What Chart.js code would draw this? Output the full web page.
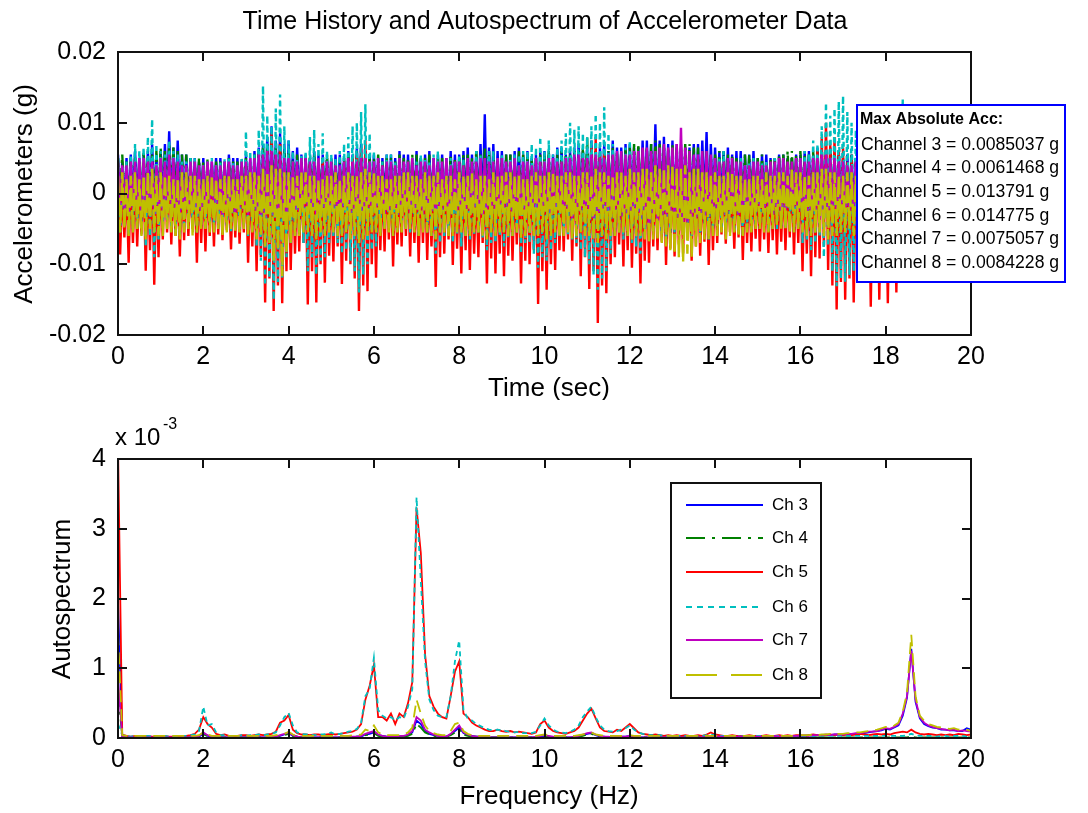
<!DOCTYPE html>
<html>
<head>
<meta charset="utf-8">
<script src="https://cdn.jsdelivr.net/npm/chart.js@4.4.0/dist/chart.umd.min.js"></script>
<style>
  body { margin: 0; background: #fff; }
  canvas { position: absolute; left: 0; }
</style>
</head>
<body>
<canvas id="timeChart" width="1088" height="400" style="top:0"></canvas>
<canvas id="specChart" width="1088" height="413" style="top:400px"></canvas>
<script>
// time history, units of 1e-4 g, one sample every 0.05 s (one row = 1 s)
const ch3Acc = [
  55,-10,45,-15, 50,-20,55,-10, 60,-5,50,-20, 55,-15,60,-10, 70,-10,55,-20,
  60,-15,70,-10, 88,-20,65,-15, 75,-10,55,-20, 55,-25,50,-15, 50,-15,45,-10,
  50,-20,45,-15, 45,-10,50,-20, 50,-15,45,-10, 55,-20,50,-15, 50,-10,45,-20,
  55,-25,50,-15, 60,-15,65,-20, 70,-30,80,-25, 95,-20,75,-30, 85,-35,70,-25,
  75,-20,60,-25, 65,-15,55,-20, 55,-30,50,-20, 60,-25,55,-15, 55,-20,50,-25,
  50,-15,55,-20, 55,-20,50,-15, 60,-25,55,-20, 65,-30,70,-25, 60,-20,55,-15,
  55,-15,50,-20, 50,-10,55,-15, 55,-20,50,-25, 60,-15,55,-20, 55,-25,50,-15,
  60,-20,50,-15, 55,-15,60,-20, 50,-25,55,-15, 55,-20,50,-25, 60,-15,55,-20,
  55,-25,60,-15, 65,-20,55,-25, 60,-15,70,-20, 112,-30,65,-20, 70,-20,60,-15,
  60,-15,55,-20, 55,-25,60,-15, 65,-20,55,-25, 60,-15,50,-20, 55,-30,60,-20,
  60,-20,55,-15, 55,-15,65,-20, 65,-25,55,-20, 60,-20,65,-15, 70,-15,60,-25,
  65,-25,75,-20, 60,-20,65,-15, 70,-15,60,-25, 75,-30,65,-20, 65,-20,70,-15,
  70,-25,65,-20, 65,-20,75,-15, 75,-15,70,-25, 98,-30,75,-20, 80,-25,70,-20,
  75,-20,70,-25, 70,-25,65,-20, 65,-15,70,-20, 70,-20,75,-15, 87,-25,70,-20,
  65,-20,60,-15, 60,-15,65,-20, 55,-25,60,-15, 60,-20,55,-25, 55,-15,60,-20,
  50,-20,55,-15, 55,-15,50,-20, 50,-25,55,-15, 55,-20,50,-15, 50,-15,55,-20,
  55,-20,60,-15, 60,-25,55,-20, 65,-15,60,-20, 60,-20,65,-25, 55,-25,60,-15,
  50,-20,55,-15, 55,-15,50,-20, 50,-20,45,-15, 45,-25,50,-20, 50,-15,45,-20,
  45,-20,50,-15, 50,-15,45,-20, 40
];
const ch4Acc = [
  50,-5,55,-10, 45,-15,50,-5, 50,-10,45,-15, 60,-5,50,-10, 55,-15,60,-5,
  65,-10,60,-15, 70,-5,65,-10, 60,-15,55,-5, 55,-10,50,-15, 45,-5,50,-10,
  45,-10,50,-5, 40,-15,45,-10, 45,-5,40,-15, 50,-10,45,-5, 45,-15,50,-10,
  50,-10,45,-15, 55,-20,60,-10, 65,-15,70,-20, 75,-10,65,-15, 70,-20,60,-10,
  60,-15,55,-10, 55,-10,50,-15, 50,-20,55,-10, 55,-15,50,-10, 50,-10,55,-15,
  50,-10,45,-15, 45,-15,50,-10, 55,-20,50,-15, 60,-15,55,-10, 55,-10,50,-15,
  50,-15,55,-10, 45,-10,50,-15, 50,-15,45,-10, 55,-10,50,-15, 50,-20,55,-10,
  55,-10,50,-15, 50,-15,55,-10, 45,-20,50,-10, 50,-15,45,-10, 55,-10,50,-15,
  50,-15,55,-10, 55,-10,50,-15, 60,-15,55,-10, 65,-20,60,-15, 55,-10,50,-15,
  50,-15,55,-10, 55,-10,50,-15, 60,-15,55,-10, 55,-10,50,-15, 50,-20,55,-10,
  55,-15,60,-10, 50,-10,55,-15, 60,-20,55,-10, 55,-15,60,-10, 60,-10,65,-15,
  79,-15,65,-10, 60,-20,55,-15, 55,-10,60,-15, 65,-15,60,-10, 60,-20,65,-15,
  65,-15,70,-10, 70,-10,65,-15, 65,-20,70,-10, 75,-15,70,-10, 70,-10,65,-15,
  70,-15,65,-10, 65,-10,70,-15, 70,-20,65,-10, 65,-15,60,-10, 60,-10,55,-15,
  55,-10,60,-15, 60,-15,55,-10, 55,-10,50,-15, 50,-15,55,-10, 55,-10,50,-15,
  50,-15,55,-10, 45,-10,50,-15, 50,-15,55,-10, 55,-10,60,-15, 60,-15,55,-10,
  60,-10,55,-15, 55,-15,60,-10, 60,-20,55,-15, 55,-10,60,-15, 50,-15,55,-10,
  50,-10,45,-15, 55,-15,50,-10, 50,-10,45,-15, 45,-15,50,-10, 45,-10,40,-15,
  45,-15,40,-10, 40,-10,45,-15, 40
];
const ch5Acc = [
  20,-86,10,-62, 15,-98,25,-70, 25,-75,15,-58, 30,-109,20,-80, 45,-129,25,-90,
  20,-65,30,-55, 35,-72,15,-60, 15,-89,20,-66, 25,-60,10,-50, 10,-98,20,-70,
  20,-82,15,-60, 15,-75,25,-58, 25,-66,10,-52, 10,-79,20,-62, 20,-71,15,-55,
  30,-98,20,-75, 25,-110,35,-90, 40,-154,60,-120, 85,-166,55,-130, 70,-155,40,-110,
  40,-108,25,-85, 20,-82,30,-70, 30,-157,40,-110, 35,-154,25,-100, 45,-126,30,-88,
  20,-96,30,-75, 25,-128,35,-95, 40,-100,50,-120, 55,-166,65,-130, 75,-138,45,-100,
  30,-119,20,-80, 15,-82,25,-65, 25,-103,15,-72, 20,-75,30,-60, 30,-89,20,-70,
  15,-98,25,-70, 25,-94,15,-75, 20,-132,30,-90, 35,-85,20,-65, 25,-101,15,-78,
  20,-113,25,-80, 30,-108,20,-85, 15,-90,25,-70, 25,-127,30,-92, 35,-113,20,-85,
  20,-117,30,-88, 25,-95,15,-72, 30,-127,25,-95, 40,-100,30,-80, 35,-156,40,-110,
  30,-136,25,-100, 20,-108,30,-80, 25,-82,20,-65, 35,-95,40,-75, 45,-117,35,-90,
  50,-135,65,-110, 80,-183,55,-130, 60,-141,40,-100, 30,-90,25,-72, 20,-103,30,-80,
  35,-105,25,-85, 25,-127,30,-95, 30,-98,20,-75, 20,-80,25,-68, 25,-101,20,-78,
  30,-89,20,-72, 20,-85,25,-65, 15,-95,20,-75, 25,-88,15,-68, 20,-101,25,-80,
  15,-70,20,-58, 20,-71,10,-55, 10,-78,20,-62, 25,-94,15,-70, 15,-82,20,-64,
  20,-82,15,-65, 10,-84,20,-66, 15,-86,10,-68, 20,-80,15,-62, 25,-86,20,-70,
  30,-110,25,-85, 35,-117,45,-90, 60,-92,80,-75, 100,-108,70,-130, 80,-164,60,-125,
  65,-150,45,-120, 50,-154,35,-115, 35,-113,40,-90, 45,-160,30,-120, 40,-150,35,-118,
  30,-155,25,-120, 40,-140,30,-105, 20
];
const ch6Acc = [
  50,-55,40,-45, 45,-60,55,-50, 70,-50,60,-40, 65,-75,80,-60, 105,-90,70,-65,
  60,-45,55,-40, 75,-50,60,-55, 55,-60,45,-50, 45,-40,50,-45, 50,-55,40,-48,
  40,-50,45,-42, 50,-45,40,-50, 45,-40,50,-45, 50,-55,45,-48, 40,-50,50,-44,
  88,-60,60,-55, 55,-75,90,-95, 152,-130,110,-120, 95,-150,120,-125, 140,-120,95,-90,
  75,-70,60,-60, 50,-55,55,-70, 60,-110,80,-90, 90,-115,70,-95, 85,-90,60,-70,
  55,-60,50,-70, 60,-85,70,-80, 80,-95,95,-110, 100,-140,115,-115, 126,-100,85,-80,
  60,-75,50,-55, 45,-50,55,-48, 55,-60,45,-52, 50,-45,40,-50, 40,-55,50,-48,
  45,-60,55,-50, 50,-55,45,-60, 55,-85,60,-70, 45,-60,50,-55, 50,-70,45,-58,
  55,-75,50,-60, 50,-65,45,-58, 60,-55,55,-62, 50,-80,60,-70, 60,-70,50,-60,
  55,-75,45,-62, 50,-60,55,-55, 55,-85,60,-70, 60,-70,70,-85, 65,-105,80,-90,
  60,-95,75,-80, 55,-70,65,-60, 75,-55,85,-60, 100,-65,90,-70, 95,-80,85,-90,
  80,-100,95,-115, 112,-136,100,-120, 122,-110,85,-85, 70,-60,60,-55, 55,-65,65,-60,
  75,-70,60,-75, 55,-85,50,-65, 50,-60,45,-55, 55,-50,50,-58, 45,-65,50,-55,
  50,-55,45,-50, 45,-50,50,-55, 40,-60,45,-48, 45,-55,40,-50, 50,-65,45,-52,
  45,-45,50,-50, 60,-50,45,-45, 40,-55,45,-50, 50,-60,40,-48, 45,-50,50,-45,
  40,-50,45,-45, 45,-55,40,-50, 50,-50,45,-48, 45,-50,40,-45, 40,-55,50,-50,
  50,-70,60,-65, 55,-80,75,-70, 70,-60,95,-90, 128,-75,110,-110, 120,-131,130,-120,
  138,-125,115,-115, 100,-110,90,-100, 80,-75,70,-90, 70,-115,80,-100, 65,-100,75,-95,
  90,-105,100,-90, 110,-95,120,-85, 133
];
const ch7Acc = [
  45,-20,40,-25, 40,-30,45,-20, 45,-25,50,-30, 50,-20,45,-25, 45,-30,40,-20,
  50,-25,45,-20, 55,-20,50,-30, 45,-30,40,-25, 40,-25,45,-20, 45,-20,40,-30,
  40,-25,45,-20, 45,-20,40,-25, 40,-30,45,-20, 45,-25,40,-30, 40,-20,45,-25,
  45,-30,50,-20, 50,-25,55,-30, 55,-35,60,-25, 60,-30,55,-35, 55,-25,50,-30,
  50,-30,45,-25, 45,-25,50,-20, 50,-20,45,-30, 45,-30,50,-25, 40,-25,45,-20,
  45,-20,40,-30, 40,-25,45,-20, 50,-30,45,-25, 45,-25,50,-30, 50,-20,45,-25,
  45,-25,50,-20, 40,-30,45,-25, 45,-20,40,-30, 50,-25,45,-20, 45,-30,50,-25,
  40,-25,45,-30, 45,-20,40,-25, 50,-30,45,-20, 45,-25,50,-30, 40,-20,45,-25,
  45,-30,40,-25, 50,-25,45,-20, 45,-20,50,-30, 50,-30,45,-25, 45,-25,50,-20,
  50,-20,45,-25, 45,-30,50,-20, 40,-25,45,-30, 45,-20,40,-25, 50,-30,45,-20,
  45,-25,50,-30, 50,-20,45,-25, 45,-30,50,-25, 50,-35,55,-30, 55,-25,50,-35,
  50,-30,55,-35, 55,-40,50,-30, 50,-25,55,-35, 55,-30,60,-40, 60,-35,55,-30,
  55,-40,60,-35, 60,-35,65,-40, 65,-45,60,-35, 60,-40,65,-45, 70,-35,65,-40,
  65,-40,70,-35, 93,-45,65,-40, 60,-35,55,-40, 55,-40,60,-35, 60,-30,55,-35,
  50,-35,45,-30, 45,-30,50,-25, 50,-25,45,-30, 45,-30,40,-25, 40,-25,45,-20,
  45,-20,40,-25, 40,-25,45,-30, 45,-30,50,-25, 50,-25,45,-20, 45,-20,50,-25,
  50,-25,45,-30, 45,-30,50,-25, 50,-35,55,-30, 55,-30,50,-25, 50,-25,45,-30,
  45,-30,40,-25, 40,-25,45,-20, 45,-20,40,-25, 40,-25,45,-30, 45,-30,40,-25,
  40,-25,45,-20, 45,-20,40,-25, 40
];
const ch8Acc = [
  25,-55,30,-50, 20,-60,25,-55, 30,-50,20,-60, 25,-65,30,-50, 35,-55,25,-60,
  30,-60,25,-50, 25,-55,20,-60, 20,-65,30,-55, 30,-50,25,-60, 25,-55,20,-50,
  20,-50,25,-55, 25,-55,20,-50, 20,-60,25,-55, 25,-50,20,-55, 20,-55,25,-50,
  25,-60,30,-55, 30,-65,25,-60, 35,-75,30,-70, 40,-95,35,-80, 35,-117,30,-85,
  30,-70,25,-60, 25,-60,30,-55, 30,-55,25,-60, 25,-65,20,-55, 20,-60,25,-55,
  25,-55,30,-60, 20,-60,25,-55, 30,-65,25,-60, 25,-70,30,-65, 35,-60,30,-55,
  30,-55,25,-60, 25,-50,20,-55, 20,-60,25,-55, 25,-55,30,-50, 30,-50,25,-55,
  25,-60,20,-55, 30,-55,25,-60, 25,-65,30,-55, 20,-55,25,-60, 25,-60,20,-55,
  30,-55,25,-60, 25,-60,30,-55, 20,-55,25,-60, 25,-65,20,-55, 30,-60,25,-55,
  25,-55,30,-60, 30,-60,25,-55, 25,-65,20,-60, 20,-55,25,-60, 30,-60,25,-55,
  25,-65,30,-60, 30,-55,25,-60, 25,-60,30,-55, 30,-65,25,-60, 25,-55,30,-60,
  30,-60,25,-65, 35,-70,30,-60, 30,-65,25,-60, 25,-60,30,-55, 30,-55,25,-60,
  35,-65,30,-60, 30,-60,35,-65, 35,-70,30,-65, 40,-65,35,-70, 35,-75,40,-80,
  40,-85,35,-90, 35,-96,40,-85, 30,-90,35,-75, 35,-70,30,-65, 30,-65,25,-60,
  30,-60,25,-55, 25,-65,30,-60, 30,-55,25,-60, 25,-60,20,-55, 20,-55,25,-50,
  25,-50,20,-55, 30,-55,25,-50, 25,-45,30,-50, 30,-50,25,-55, 35,-55,30,-50,
  30,-55,25,-60, 25,-60,30,-55, 30,-55,35,-60, 35,-65,30,-60, 30,-60,25,-55,
  25,-55,30,-50, 30,-60,25,-55, 25,-50,30,-55, 30,-55,25,-50, 25,-50,20,-55,
  20,-55,25,-50, 25,-50,20,-55, 20
];

// autospectrum, units of 1e-5, one value every 0.1 Hz (one row = 1 Hz)
const ch3Spec = [
  195,2,1,1,1,1,1,1,1,1,
  1,1,1,1,1,1,1,1,1,2,
  6,3,2,1,1,1,1,1,1,1,
  1,1,1,1,1,1,1,2,3,5,
  7,3,2,1,1,1,1,1,1,1,
  1,1,1,1,1,1,2,2,5,6,
  8,4,3,2,2,2,2,2,4,8,
  25,20,10,6,4,3,2,2,5,10,
  15,7,4,3,2,2,1,1,1,1,
  1,1,1,1,1,1,1,1,1,2,
  3,2,1,1,1,1,1,1,2,4,
  6,7,4,2,2,1,1,1,2,2,
  3,2,1,1,1,1,1,1,1,1,
  1,1,1,1,1,1,1,1,2,1,
  2,1,1,2,1,2,2,1,2,2,
  2,2,2,2,2,2,2,3,2,3,
  3,3,4,3,4,4,4,4,5,5,
  5,6,6,6,7,7,8,9,10,11,
  13,12,15,18,32,58,128,52,28,20,
  17,15,14,12,12,11,11,10,10,14,
  12
];
const ch4Spec = [
  65,2,1,1,1,1,1,1,1,1,
  1,1,1,1,1,1,1,1,1,2,
  5,3,2,1,1,1,1,1,1,1,
  1,1,1,1,1,1,1,2,3,4,
  6,3,2,1,1,1,1,1,1,1,
  1,1,1,1,1,1,2,2,4,5,
  7,3,2,2,2,2,2,2,3,6,
  20,15,8,5,3,2,2,2,4,8,
  12,5,3,2,2,1,1,1,1,1,
  1,1,1,1,1,1,1,1,1,2,
  2,2,1,1,1,1,1,1,2,3,
  5,6,3,2,1,1,1,1,1,1,
  2,1,1,1,1,1,1,1,1,1,
  1,1,1,1,1,1,1,1,1,1,
  1,1,1,1,1,1,1,1,1,1,
  1,1,1,1,1,1,1,1,1,1,
  1,1,1,1,1,1,1,1,1,1,
  1,1,1,1,1,1,1,1,1,1,
  1,1,1,1,1,1,2,1,1,1,
  1,1,1,1,1,1,1,1,1,1,
  1
];
const ch5Spec = [
  420,5,3,2,3,2,2,3,2,2,
  2,3,2,2,3,2,3,4,6,12,
  30,20,15,6,4,5,3,2,3,4,
  4,3,4,5,4,5,6,9,22,25,
  33,12,7,5,5,4,5,5,4,5,
  6,5,6,7,8,9,12,20,55,75,
  105,30,30,25,35,20,35,30,50,80,
  330,265,120,60,45,35,30,28,60,95,
  110,35,30,22,18,15,12,10,10,12,
  10,9,10,8,9,8,7,6,8,20,
  25,15,10,8,7,6,8,10,15,25,
  35,42,28,15,10,9,8,12,10,15,
  20,14,8,6,5,4,5,4,3,4,
  3,4,3,4,3,3,4,3,5,8,
  5,4,3,3,4,3,3,3,4,3,
  3,3,4,3,3,4,3,4,3,4,
  4,3,4,5,4,3,4,5,4,5,
  4,5,4,5,6,5,4,5,6,5,
  6,5,7,8,9,8,12,8,6,5,
  6,5,4,5,4,5,4,6,5,4,
  5
];
const ch6Spec = [
  20,4,3,2,3,2,2,3,2,3,
  2,3,2,3,2,3,3,4,5,10,
  45,18,20,8,4,4,3,3,2,4,
  3,4,4,5,4,5,6,8,18,30,
  36,18,8,6,5,5,4,5,5,6,
  8,5,6,7,9,10,13,22,60,70,
  115,40,32,28,30,25,30,28,45,70,
  345,225,110,55,40,32,30,30,60,110,
  140,40,28,25,20,17,14,12,11,12,
  11,10,9,8,9,7,7,7,9,18,
  28,18,12,9,8,7,9,12,18,30,
  38,45,30,18,12,10,9,10,12,14,
  18,12,8,6,5,4,4,4,3,3,
  3,3,3,3,3,3,3,3,4,5,
  4,3,3,3,3,3,2,3,3,3,
  3,3,3,3,3,3,3,3,3,3,
  3,3,3,3,3,3,3,3,3,3,
  3,3,3,3,3,3,3,3,3,3,
  3,3,3,3,3,4,6,4,3,3,
  3,3,2,3,3,2,3,3,3,2,
  3
];
const ch7Spec = [
  85,2,1,1,1,1,1,1,1,1,
  1,1,1,1,1,1,1,1,2,3,
  8,4,2,1,1,1,1,1,1,1,
  1,1,1,1,1,1,2,2,4,6,
  8,4,2,1,1,1,1,1,1,1,
  1,1,1,1,1,2,2,3,6,8,
  10,5,3,2,2,2,3,3,5,10,
  30,25,12,8,5,3,2,2,6,12,
  18,8,5,3,2,2,2,1,1,1,
  1,1,1,1,1,1,1,1,2,3,
  4,3,2,1,1,1,1,2,3,5,
  7,8,5,3,2,2,1,2,2,2,
  3,2,1,1,1,1,1,1,1,1,
  1,1,1,1,1,1,1,1,2,2,
  2,2,2,2,2,2,2,2,2,2,
  2,2,2,2,3,2,3,3,3,3,
  3,4,3,4,4,4,5,4,5,5,
  5,6,6,7,7,8,9,9,10,12,
  14,13,16,20,35,60,125,55,30,22,
  18,16,14,13,12,11,12,10,11,10,
  9
];
const ch8Spec = [
  150,4,3,3,3,3,3,3,3,3,
  3,3,3,3,3,3,3,3,3,4,
  8,5,3,3,3,3,3,3,3,3,
  3,3,3,3,3,3,3,4,5,6,
  9,5,3,3,3,3,3,3,3,3,
  3,3,3,3,3,4,4,5,12,10,
  18,8,5,4,4,4,4,5,8,15,
  55,35,18,10,7,5,4,4,10,20,
  22,10,6,4,3,3,3,3,3,3,
  3,3,3,3,3,3,3,3,3,4,
  5,4,3,3,3,3,3,3,4,5,
  7,8,5,4,3,3,3,3,3,3,
  4,3,3,3,3,3,3,3,3,3,
  3,3,3,3,3,3,3,3,3,3,
  3,3,3,3,3,3,3,3,3,3,
  3,3,3,3,3,3,3,3,3,3,
  4,4,4,5,4,5,5,6,5,6,
  6,7,7,8,8,9,10,11,12,14,
  16,15,18,22,38,65,148,60,32,25,
  20,18,16,15,14,13,14,12,13,12,
  10
];

const channels = ['Ch 3', 'Ch 4', 'Ch 5', 'Ch 6', 'Ch 7', 'Ch 8'];
const maxAbsAcc = ['0.0085037', '0.0061468', '0.013791', '0.014775', '0.0075057', '0.0084228'];
const xTicks = [0, 2, 4, 6, 8, 10, 12, 14, 16, 18, 20];
const xTickLabels = ['0', '2', '4', '6', '8', '10', '12', '14', '16', '18', '20'];
const accTicks = [-0.02, -0.01, 0, 0.01, 0.02];
const accTickLabels = ['-0.02', '-0.01', '0', '0.01', '0.02'];
const specTicks = [0, 1, 2, 3, 4];
const specTickLabels = ['0', '1', '2', '3', '4'];

const colors = ['#0000ff', '#008000', '#ff0000', '#00bfbf', '#bf00bf', '#bfbf00'];
const timeDashes = [[], [14, 5, 3, 5], [], [5, 4], [], [18, 4]];
const specDashes = [[], [14, 5, 3, 5], [], [5, 4], [], [12, 7]];
const legendDashes = [[], [19, 7, 3, 7], [], [6, 5], [], [31, 14]];

const FONT = '"Liberation Sans", Arial, sans-serif';
Chart.defaults.font.family = FONT;
Chart.defaults.color = '#000';

function toPoints(vals, step, scale) {
    return vals.map((v, i) => ({ x: Math.round(i * step * 100) / 100, y: v / scale }));
}

function makeDatasets(list, step, scale, width, dashes) {
    return list.map((vals, k) => ({
        label: channels[k],
        data: toPoints(vals, step, scale),
        borderColor: colors[k],
        borderWidth: width,
        borderDash: dashes[k],
        pointRadius: 0,
        tension: 0,
        order: 6 - k
    }));
}

function axes(yMin, yMax, yTickVals, yLabels, xHeight) {
    return {
        x: {
            type: 'linear', min: 0, max: 20,
            afterBuildTicks: s => { s.ticks = xTicks.map(v => ({ value: v })); },
            afterFit: s => { s.height = xHeight; },
            ticks: { callback: (v, i) => xTickLabels[i], font: { size: 25 }, padding: 7, maxRotation: 0, color: '#000' },
            grid: { display: false, drawTicks: false },
            border: { display: false }
        },
        y: {
            type: 'linear', min: yMin, max: yMax,
            afterBuildTicks: s => { s.ticks = yTickVals.map(v => ({ value: v })); },
            afterFit: s => { s.width = 118; },
            ticks: { callback: (v, i) => yLabels[i], font: { size: 25 }, padding: 12, color: '#000' },
            grid: { display: false, drawTicks: false },
            border: { display: false }
        }
    };
}

// box round the axes with inward tick marks, matlab style
function drawFrame(chart, yTickVals) {
    const { ctx, chartArea: a, scales } = chart;
    ctx.save();
    ctx.strokeStyle = '#111';
    ctx.lineWidth = 2;
    ctx.strokeRect(a.left, a.top, a.right - a.left, a.bottom - a.top);
    ctx.beginPath();
    xTicks.forEach(v => {
        const px = Math.round(scales.x.getPixelForValue(v));
        ctx.moveTo(px, a.top); ctx.lineTo(px, a.top + 9);
        ctx.moveTo(px, a.bottom); ctx.lineTo(px, a.bottom - 9);
    });
    yTickVals.forEach(v => {
        const py = Math.round(scales.y.getPixelForValue(v));
        ctx.moveTo(a.left, py); ctx.lineTo(a.left + 9, py);
        ctx.moveTo(a.right, py); ctx.lineTo(a.right - 9, py);
    });
    ctx.stroke();
    ctx.restore();
}

function text(ctx, str, x, y, size, align, rotate) {
    ctx.save();
    ctx.font = size + 'px ' + FONT;
    ctx.fillStyle = '#000';
    ctx.textAlign = align || 'center';
    ctx.textBaseline = 'middle';
    ctx.translate(x, y);
    if (rotate) ctx.rotate(-Math.PI / 2);
    ctx.fillText(str, 0, 0);
    ctx.restore();
}

const timeDecor = {
    id: 'timeDecor',
    afterDatasetsDraw(chart) {
        const ctx = chart.ctx;
        drawFrame(chart, accTicks);
        text(ctx, 'Time History and Autospectrum of Accelerometer Data', 545, 22, 25);
        text(ctx, 'Accelerometers (g)', 25, 194, 26, 'center', true);
        text(ctx, 'Time (sec)', 549, 389, 26);
        // max absolute acc box
        ctx.save();
        ctx.fillStyle = '#fff';
        ctx.fillRect(857, 105, 208, 177);
        ctx.strokeStyle = '#0000ff';
        ctx.lineWidth = 2;
        ctx.strokeRect(857, 105, 208, 177);
        ctx.restore();
        ctx.save();
        ctx.font = 'bold 16px ' + FONT;
        ctx.fillStyle = '#000';
        ctx.textBaseline = 'middle';
        ctx.fillText('Max Absolute Acc:', 860, 120);
        ctx.restore();
        maxAbsAcc.forEach((v, k) => {
            text(ctx, 'Channel ' + (k + 3) + ' = ' + v + ' g', 861, 145 + k * 23.6, 17.6, 'left');
        });
    }
};

const specDecor = {
    id: 'specDecor',
    afterDatasetsDraw(chart) {
        const ctx = chart.ctx;
        drawFrame(chart, specTicks);
        text(ctx, 'Autospectrum', 63, 199, 26, 'center', true);
        text(ctx, 'Frequency (Hz)', 549, 397, 26);
        text(ctx, 'x 10', 115, 38, 24, 'left');
        text(ctx, '-3', 163, 25, 16, 'left');
        // legend
        ctx.save();
        ctx.fillStyle = '#fff';
        ctx.fillRect(671, 83, 150, 215);
        ctx.strokeStyle = '#111';
        ctx.lineWidth = 2;
        ctx.strokeRect(671, 83, 150, 215);
        ctx.restore();
        const rows = [105, 138, 172, 207, 240, 275];
        channels.forEach((name, k) => {
            ctx.save();
            ctx.strokeStyle = colors[k];
            ctx.lineWidth = 2;
            ctx.setLineDash(legendDashes[k]);
            ctx.beginPath();
            ctx.moveTo(686, rows[k]);
            ctx.lineTo(763, rows[k]);
            ctx.stroke();
            ctx.restore();
            text(ctx, name, 772, rows[k], 17, 'left');
        });
    }
};

new Chart(document.getElementById('timeChart'), {
    type: 'line',
    data: { datasets: makeDatasets([ch3Acc, ch4Acc, ch5Acc, ch6Acc, ch7Acc, ch8Acc], 0.05, 10000, 2.4, timeDashes) },
    options: {
        responsive: false,
        animation: false,
        layout: { padding: { left: 0, right: 117, top: 52, bottom: 0 } },
        scales: axes(-0.02, 0.02, accTicks, accTickLabels, 65),
        plugins: { legend: { display: false }, tooltip: { enabled: false } }
    },
    plugins: [timeDecor]
});

new Chart(document.getElementById('specChart'), {
    type: 'line',
    data: { datasets: makeDatasets([ch3Spec, ch4Spec, ch5Spec, ch6Spec, ch7Spec, ch8Spec], 0.1, 100, 1.8, specDashes) },
    options: {
        responsive: false,
        animation: false,
        layout: { padding: { left: 0, right: 117, top: 59, bottom: 0 } },
        scales: axes(0, 4, specTicks, specTickLabels, 75),
        plugins: { legend: { display: false }, tooltip: { enabled: false } }
    },
    plugins: [specDecor]
});
</script>
</body>
</html>
